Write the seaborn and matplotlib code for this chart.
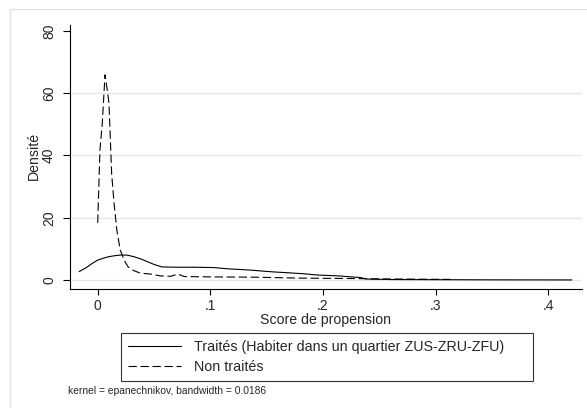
import matplotlib
matplotlib.use("Agg")
import matplotlib.pyplot as plt
import seaborn as sns
from matplotlib.patches import Rectangle

# densite estimee
traites_x = [-0.0165, -0.010, -0.005, 0.0, 0.005, 0.010, 0.015, 0.020, 0.026,
             0.032, 0.038, 0.044, 0.050, 0.057, 0.070, 0.085, 0.103, 0.115,
             0.135, 0.145, 0.156, 0.170, 0.183, 0.195, 0.215, 0.225, 0.233,
             0.239, 0.26, 0.30, 0.35, 0.421]
traites_y = [2.7, 4.0, 5.3, 6.4, 7.0, 7.5, 7.8, 8.0, 8.0,
             7.5, 6.8, 5.9, 5.0, 4.2, 4.1, 4.1, 4.0, 3.6,
             3.2, 2.9, 2.6, 2.3, 2.0, 1.6, 1.3, 1.0, 0.8,
             0.3, 0.15, 0.1, 0.05, 0.02]

non_traites_x = [0.0, 0.001, 0.002, 0.004, 0.0065, 0.0085, 0.010, 0.0124,
                 0.0145, 0.017, 0.020, 0.024, 0.027, 0.032, 0.038, 0.047,
                 0.056, 0.065, 0.071, 0.077, 0.10, 0.14, 0.18, 0.22, 0.239,
                 0.27, 0.313]
non_traites_y = [18.4, 30, 41.8, 50, 65.9, 61, 56.8, 34,
                 24.7, 16, 9.6, 6, 4.2, 3.0, 2.2, 1.9,
                 1.3, 1.2, 1.9, 1.1, 1.0, 0.9, 0.6, 0.5, 0.4,
                 0.3, 0.2]

x_ticks = [0, 0.1, 0.2, 0.3, 0.4]
x_labels = ["0", ".1", ".2", ".3", ".4"]
y_ticks = [0, 20, 40, 60, 80]

sns.set_theme(style="white")
plt.rcParams["font.family"] = ["Liberation Sans", "DejaVu Sans"]

W, H = 587, 408
fig = plt.figure(figsize=(W / 100, H / 100), dpi=100)
ax = fig.add_axes([70 / W, 1 - 289 / H, (582 - 70) / W, (289 - 25) / H])

# cadre exterieur gris clair
fig.patches.append(Rectangle((10 / W, -0.1), 1.2, 1 - 9 / H + 0.1,
                             transform=fig.transFigure, fill=False,
                             edgecolor="#e2e2e2", linewidth=1))

for yv in [0, 20, 40, 60]:
    ax.axhline(yv, color="#e6e6e6", linewidth=0.9, zorder=0)

sns.lineplot(x=traites_x, y=traites_y, ax=ax, color="black", linewidth=0.8,
             label="Traités (Habiter dans un quartier ZUS-ZRU-ZFU)", legend=False)
sns.lineplot(x=non_traites_x, y=non_traites_y, ax=ax, color="black",
             linewidth=0.8, linestyle=(0, (7.5, 3.3)),
             label="Non traités", legend=False)

ax.set_xlim(-0.0246, 0.430)
ax.set_ylim(-2.89, 81.9)
ax.set_xticks(x_ticks)
ax.set_xticklabels(x_labels)
ax.set_yticks(y_ticks)
ax.set_yticklabels([str(v) for v in y_ticks], rotation=90, va="center")
ax.tick_params(axis="x", direction="out", length=4.5, width=0.8, pad=3,
               labelsize=10, color="black", bottom=True)
ax.tick_params(axis="y", direction="out", length=5, width=0.8, pad=5,
               labelsize=10, color="black", left=True)
for s in ["top", "right"]:
    ax.spines[s].set_visible(False)
for s in ["left", "bottom"]:
    ax.spines[s].set_color("black")
    ax.spines[s].set_linewidth(0.8)

fig.text(326 / W, 1 - 320 / H, "Score de propension", ha="center",
         va="center", fontsize=10.2)
fig.text(34 / W, 1 - 156 / H, "Densité", ha="center", va="center",
         rotation=90, fontsize=10.2)

handles, labels = ax.get_legend_handles_labels()
leg = fig.legend(handles, labels, loc="upper left",
                 bbox_to_anchor=(121 / W, 1 - 333 / H, 412 / W, 0),
                 mode="expand", borderaxespad=0, fontsize=10.3,
                 handlelength=3.7, handletextpad=0.9, labelspacing=0.4,
                 borderpad=0.5, fancybox=False, frameon=True)
leg.get_frame().set_edgecolor("black")
leg.get_frame().set_linewidth(0.8)

fig.text(68 / W, 1 - 391 / H, "kernel = epanechnikov, bandwidth = 0.0186",
         ha="left", va="center", fontsize=7.4)

fig.savefig("out.png", dpi=100)
